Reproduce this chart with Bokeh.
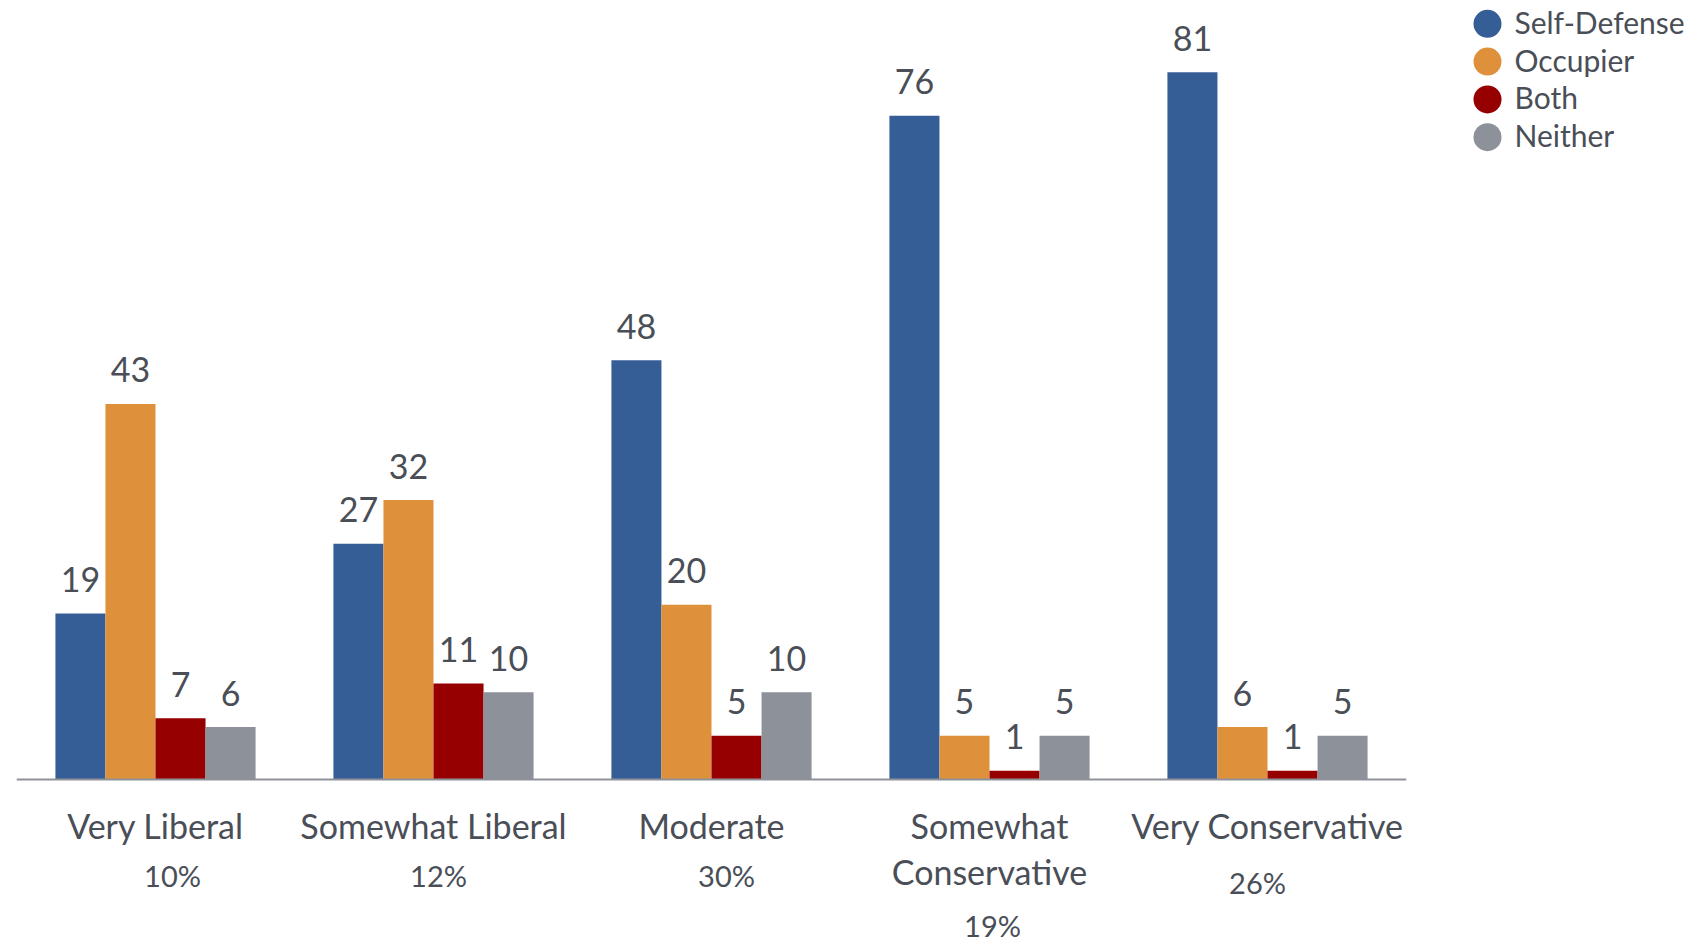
from bokeh.plotting import figure
from bokeh.models import ColumnDataSource, FactorRange, Range1d, Span
from bokeh.transform import dodge
from bokeh.layouts import row
from bokeh.core.properties import value
from bokeh.embed import file_html
from bokeh.resources import INLINE

# ---------------- data ----------------
categories = ["Very Liberal", "Somewhat Liberal", "Moderate",
              "Somewhat\nConservative", "Very Conservative"]
shares = ["10%", "12%", "30%", "19%", "26%"]
series = ["Self-Defense", "Occupier", "Both", "Neither"]
self_defense = [19, 27, 48, 76, 81]
occupier = [43, 32, 20, 5, 6]
both = [7, 11, 5, 1, 1]
neither = [6, 10, 10, 5, 5]

# ---------------- style / layout ----------------
colors = ["#365E96", "#DF903A", "#960000", "#8D9199"]
TEXT = "#4A4E57"
FONT = "Lato"
pct_dx = [17, 5, 15, 3, -10]     # small label nudges (screen px)
pct_dy = [0, 0, 0, 0, 7]

W_MAIN, W_LEG, H = 1428, 275, 944
PX_PER_UNIT = 8.733
BASE_Y = 779  # canvas px of value 0
y_top = BASE_Y / PX_PER_UNIT
y_bot = -(H - BASE_Y) / PX_PER_UNIT

p = figure(width=W_MAIN, height=H,
           x_range=FactorRange(factors=categories, range_padding=0),
           y_range=Range1d(y_bot, y_top),
           x_axis_location=None, y_axis_location=None,
           toolbar_location=None, output_backend="svg",
           min_border_left=16, min_border_right=22,
           min_border_top=0, min_border_bottom=0,
           outline_line_color=None,
           background_fill_color="white", border_fill_color="white")
p.grid.visible = False

series_values = [self_defense, occupier, both, neither]
keys = ["sd", "occ", "both", "nei"]
data = dict(cat=categories)
for k, vals in zip(keys, series_values):
    data[k] = vals
    data[k + "_txt"] = [str(v) for v in vals]
src = ColumnDataSource(data)

bar_w = 0.18
offsets = [(i - 1.5) * bar_w for i in range(4)]
for k, off, c in zip(keys, offsets, colors):
    xd = dodge("cat", off, range=p.x_range)
    p.vbar(x=xd, top=k, bottom=0, width=bar_w, source=src,
           fill_color=c, line_color=None)
    p.text(x=xd, y=k, text=k + "_txt", source=src,
           text_align="center", text_baseline="alphabetic", y_offset=-34,
           text_font=value(FONT), text_font_size="34px", text_color=TEXT)

p.add_layout(Span(location=0, dimension="width", line_color="#8E9199",
                  line_width=2))

# category labels (possibly two lines) and share labels
l1 = [c.split("\n")[0] for c in categories]
l2 = [c.split("\n")[1] if "\n" in c else "" for c in categories]
nlines = [len(c.split("\n")) for c in categories]
lab_src = ColumnDataSource(dict(
    cat=categories, l1=l1, l2=l2, pct=shares, dx=pct_dx,
    dy=[96 + 50 * (n - 1) + d for n, d in zip(nlines, pct_dy)]))

common = dict(source=lab_src, text_align="center", text_baseline="alphabetic",
              text_font=value(FONT), text_color=TEXT)
p.text(x="cat", y=0, text="l1", y_offset=46, text_font_size="34px", **common)
p.text(x="cat", y=0, text="l2", y_offset=92, text_font_size="34px", **common)
p.text(x="cat", y=0, text="pct", x_offset="dx", y_offset="dy",
       text_font_size="29px", **common)

# ---------------- legend ----------------
LH = 160
leg = figure(width=W_LEG, height=LH, x_range=Range1d(0, W_LEG),
             y_range=Range1d(LH, 0),
             x_axis_location=None, y_axis_location=None,
             toolbar_location=None, output_backend="svg",
             min_border=0, outline_line_color=None,
             background_fill_color="white", border_fill_color="white")
leg.grid.visible = False
leg_src = ColumnDataSource(dict(name=series, color=colors,
                                y=[23.3 + 37.8 * i for i in range(len(series))]))
leg.scatter(x=59, y="y", size=28, marker="circle", fill_color="color",
            line_color=None, source=leg_src)
leg.text(x=86, y="y", text="name", source=leg_src, y_offset=-2,
         text_baseline="alphabetic", text_align="left",
         text_font=value(FONT), text_font_size="30px", text_color=TEXT)

layout = row(p, leg)
open("out.html", "w").write(file_html(layout, INLINE))
